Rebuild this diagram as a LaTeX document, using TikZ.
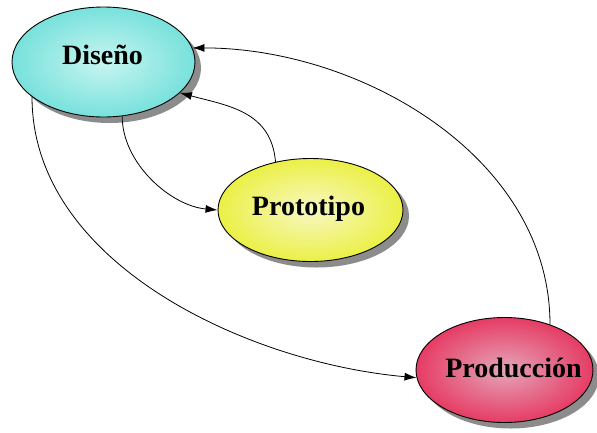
\documentclass[tikz,border=0pt]{standalone}
\usepackage{fontspec}
\setmainfont{Liberation Serif}
\usetikzlibrary{shapes.geometric,shadows,arrows.meta}
\definecolor{disout}{RGB}{120,225,220}
\definecolor{disin}{RGB}{200,245,240}
\definecolor{proout}{RGB}{235,240,70}
\definecolor{proin}{RGB}{248,248,195}
\definecolor{prdout}{RGB}{230,60,100}
\definecolor{prdin}{RGB}{228,165,185}
\begin{document}
\begin{tikzpicture}[x=1pt,y=-1pt,
  blob/.style={ellipse,draw=black,line width=0.9pt,inner sep=0pt,
    drop shadow={shadow xshift=6pt,shadow yshift=-6pt,fill=black!45,opacity=1}},
  lbl/.style={anchor=base,inner sep=0pt,font=\fontsize{28}{32}\selectfont\bfseries},
  conn/.style={line width=0.8pt,-{Latex[length=12pt,width=8pt]}}]
\useasboundingbox[fill=white] (0,0) rectangle (597,432);
\node[blob,minimum width=183pt,minimum height=110pt,
  shading=radial,inner color=disin,outer color=disout] (dis) at (103.5,62) {};
\node[blob,minimum width=185pt,minimum height=103pt,
  shading=radial,inner color=proin,outer color=proout] (pro) at (310.5,210) {};
\node[blob,minimum width=177pt,minimum height=105pt,
  shading=radial,inner color=prdin,outer color=prdout] (prd) at (504.5,370) {};
\node[lbl] (tdis) at (102.5,64) {Diseño};
\node[lbl] (tpro) at (308.5,215) {Prototipo};
\node[lbl] (tprd) at (513.5,377) {Producción};
\draw[conn] (dis.-71) to[out=-90,in=175,looseness=0.9] (pro.180);
\draw[conn] (pro.126) to[out=95,in=-15,looseness=1.1] (dis.-22);
\draw[conn] (dis.206) to[out=-90,in=175,looseness=0.9] (prd.185);
\draw[conn] (prd.45) to[out=90,in=0,looseness=0.95] (dis.9);
\end{tikzpicture}
\end{document}
